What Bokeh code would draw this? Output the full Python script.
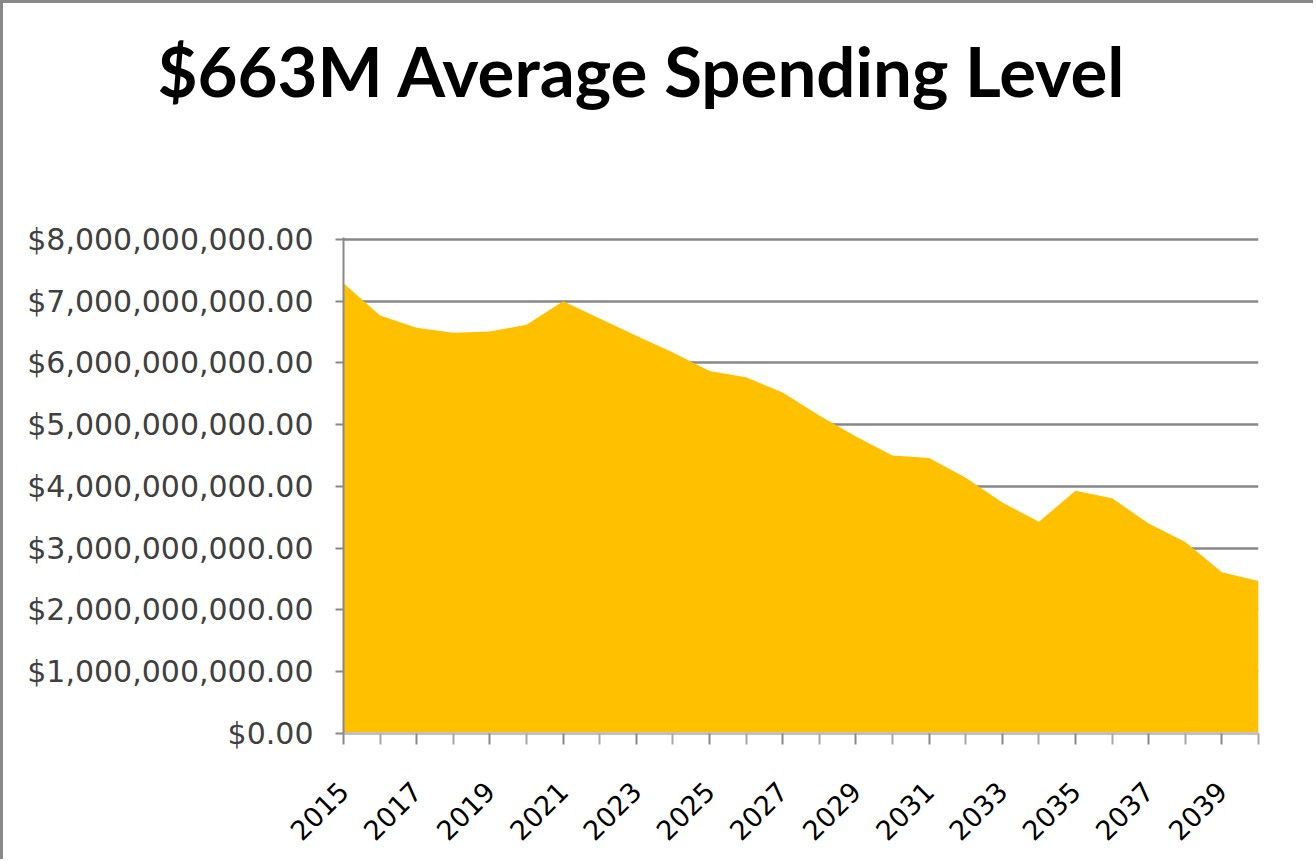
from bokeh.plotting import figure
from bokeh.models import FixedTicker, NumeralTickFormatter, Range1d, Title
from bokeh.embed import file_html
from bokeh.resources import INLINE
import math

title_text = "$663M Average Spending Level"
years = list(range(2015, 2041))
spending = [7.29e9, 6.77e9, 6.57e9, 6.49e9, 6.51e9, 6.62e9, 7.00e9, 6.72e9, 6.44e9,
            6.17e9, 5.87e9, 5.77e9, 5.52e9, 5.15e9, 4.81e9, 4.50e9, 4.46e9, 4.14e9,
            3.74e9, 3.43e9, 3.93e9, 3.81e9, 3.40e9, 3.10e9, 2.61e9, 2.47e9]
y_ticks = [0, 1e9, 2e9, 3e9, 4e9, 5e9, 6e9, 7e9, 8e9]
labeled_years = years[::2]
other_years = years[1::2]

p = figure(width=1313, height=859, output_backend="svg", toolbar_location=None,
           x_range=Range1d(years[0], years[-1]), y_range=Range1d(y_ticks[0], y_ticks[-1] * 1.004),
           min_border_left=340, min_border_right=58, min_border_top=234, min_border_bottom=129,
           styles={"border-top": "3px solid #888888", "border-left": "3px solid #888888"})
p.title_location = None

p.varea(x=years, y1=0, y2=spending, fill_color="#FFC000")

spacer = Title(text=" ", text_font_size="10px", standoff=113, align="left")
p.add_layout(spacer, "above")
main_title = Title(text=title_text, text_font="Lato", text_font_style="bold",
                   text_font_size="69px", text_color="#000000", align="left",
                   offset=-186, standoff=0)
p.add_layout(main_title, "above")

p.outline_line_color = None
p.background_fill_color = "white"
p.border_fill_color = "white"

p.xgrid.grid_line_color = None
p.ygrid.grid_line_color = "#888888"
p.ygrid.grid_line_width = 2.5

yax = p.yaxis[0]
yax.ticker = FixedTicker(ticks=y_ticks)
yax.formatter = NumeralTickFormatter(format="$0,0.00")
yax.axis_line_color = "#888888"
yax.axis_line_width = 2
yax.major_tick_line_color = "#888888"
yax.major_tick_line_width = 2
yax.major_tick_out = 8
yax.major_tick_in = 0
yax.minor_tick_line_color = None
yax.major_label_text_font = "DejaVu Sans"
yax.major_label_text_font_size = "30px"
yax.major_label_text_color = "#404040"
yax.major_label_standoff = 22

xax = p.xaxis[0]
xax.ticker = FixedTicker(ticks=labeled_years, minor_ticks=other_years)
xax.axis_line_color = "#c0c0c0"
xax.axis_line_width = 3
xax.major_tick_line_color = "#888888"
xax.major_tick_line_width = 2
xax.major_tick_out = 11
xax.major_tick_in = 0
xax.minor_tick_line_color = "#a8a8a8"
xax.minor_tick_line_width = 2
xax.minor_tick_out = 11
xax.minor_tick_in = 0
xax.major_label_orientation = math.pi / 4
xax.major_label_text_font = "DejaVu Sans"
xax.major_label_text_font_size = "27px"
xax.major_label_text_color = "#000000"
xax.major_label_standoff = 42

open("out.html", "w").write(file_html(p, INLINE))
